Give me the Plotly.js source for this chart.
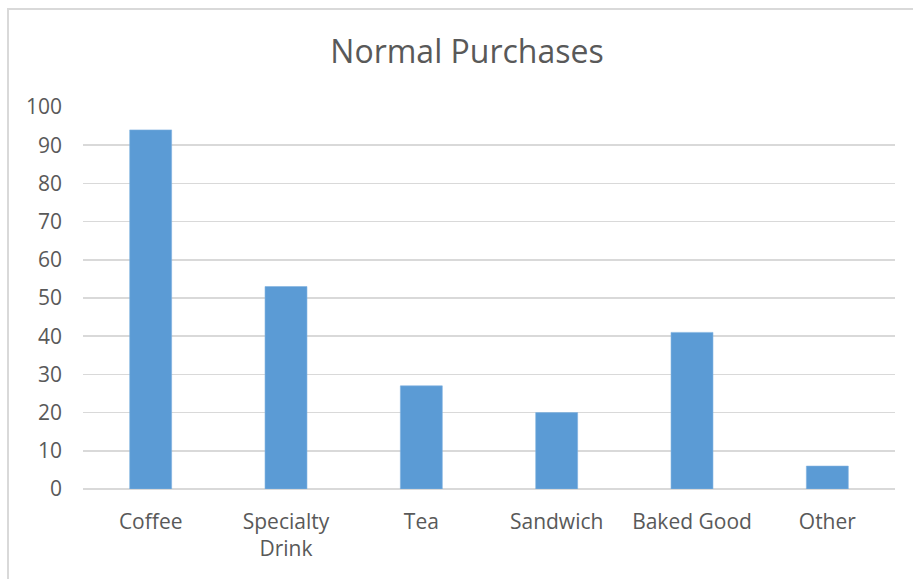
<!DOCTYPE html>
<html>
<head>
<meta charset="utf-8">
<script src="https://cdn.plot.ly/plotly-3.0.1.min.js"></script>
<style>
  html, body { margin: 0; padding: 0; background: #ffffff; }
  #chart { position: absolute; left: 0; top: 0; width: 913px; height: 579px; }
  #frame {
    position: absolute; left: 7px; top: 8px; width: 920px; height: 590px;
    border-left: 2px solid #d9d9d9; border-top: 2px solid #d9d9d9;
    pointer-events: none;
  }
</style>
</head>
<body>
<div id="chart"></div>
<div id="frame"></div>
<script>
// Purchase categories and counts
const categories = ["Coffee", "Specialty<br>Drink", "Tea", "Sandwich", "Baked Good", "Other"];
const purchases = [94, 53, 27, 20, 41, 6];
const yTickValues = [0, 10, 20, 30, 40, 50, 60, 70, 80, 90, 100];

const labelColor = "#595959";
const barColor = "#5b9bd5";
const gridColor = "#d9d9d9";

const trace = {
  type: "bar",
  x: categories,
  y: purchases,
  width: 0.31,
  marker: { color: barColor, line: { color: "#7fb1e0", width: 0.6 } },
  hoverinfo: "x+y"
};

const layout = {
  width: 913,
  height: 579,
  margin: { l: 83, r: 18, t: 107, b: 90 },
  paper_bgcolor: "#ffffff",
  plot_bgcolor: "#ffffff",
  showlegend: false,
  font: { family: "Open Sans, sans-serif", color: labelColor, size: 21 },
  title: {
    text: "Normal Purchases",
    font: { family: "Open Sans, sans-serif", size: 32, color: labelColor },
    x: 467 / 913,
    xanchor: "center",
    xref: "container",
    y: 1 - 52 / 579,
    yanchor: "middle",
    yref: "container"
  },
  xaxis: {
    type: "category",
    showgrid: false,
    zeroline: false,
    showline: false,
    ticks: "",
    ticklabelstandoff: 18,
    tickfont: { size: 21, color: labelColor }
  },
  yaxis: {
    range: [0, 100],
    tickvals: yTickValues,
    showgrid: true,
    gridcolor: gridColor,
    gridwidth: 1.5,
    zeroline: true,
    zerolinecolor: gridColor,
    zerolinewidth: 1.5,
    showline: false,
    ticks: "",
    ticklabelstandoff: 20,
    tickfont: { size: 21, color: labelColor }
  },
  bargap: 0.69
};

Plotly.newPlot("chart", [trace], layout, { displayModeBar: false, staticPlot: true });
</script>
</body>
</html>
